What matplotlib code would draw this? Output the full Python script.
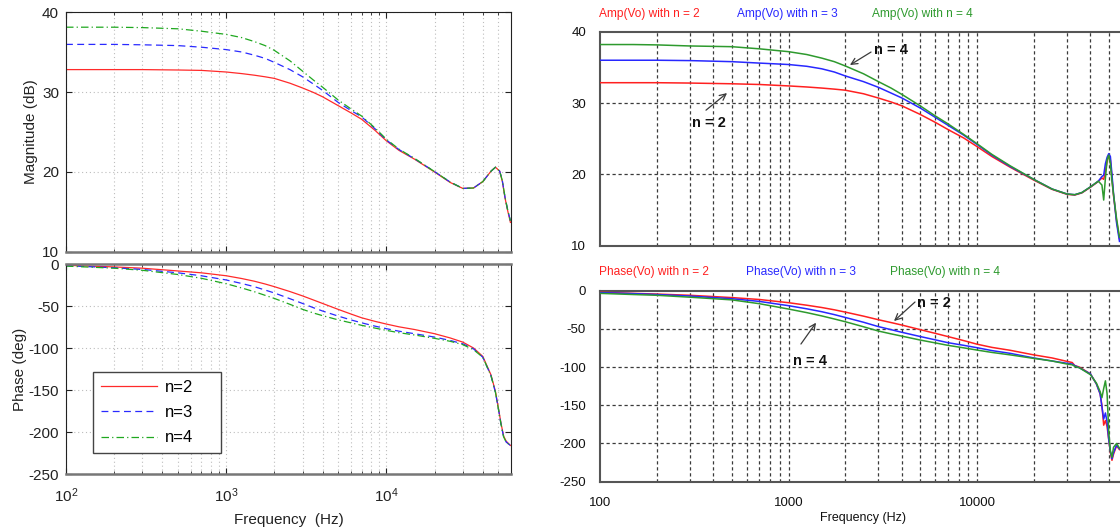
import matplotlib
matplotlib.use("Agg")
import matplotlib.pyplot as plt
from matplotlib.ticker import FixedLocator, FixedFormatter, NullFormatter

W, H = 1120, 532

# ---------------- left panel (MATLAB bode) ----------------
F_MAG_L = [100, 200, 300, 500, 700, 1000, 1250, 1500, 1750, 2000, 2500, 3000, 3500, 4000, 5000,
           6000, 7000, 8500, 10000, 12000, 15000, 20000, 25000, 30000, 35000, 40000, 45000,
           48000, 51000, 53000, 55000, 57000, 59500]
MAG_L_N2 = [32.8, 32.8, 32.8, 32.75, 32.7, 32.5, 32.3, 32.1, 31.9, 31.7, 31.1, 30.5, 29.95, 29.4, 28.3,
            27.4, 26.6, 25.2, 23.9, 22.7, 21.6, 20.0, 18.7, 17.95, 18.0, 18.8, 20.1,
            20.6, 20.1, 18.8, 16.8, 15.3, 13.7]
MAG_L_N3 = [35.95, 35.95, 35.9, 35.8, 35.6, 35.3, 35.0, 34.6, 34.2, 33.7, 32.8, 31.9, 31.0, 30.2, 28.7,
            27.7, 26.9, 25.4, 24.0, 22.8, 21.65, 20.05, 18.75, 17.95, 18.0, 18.8, 20.1,
            20.6, 20.1, 18.9, 16.9, 15.4, 13.9]
MAG_L_N4 = [38.1, 38.1, 38.05, 37.9, 37.6, 37.2, 36.8, 36.3, 35.8, 35.2, 33.9, 32.6, 31.5, 30.6, 29.0,
            27.9, 27.0, 25.5, 24.1, 22.85, 21.7, 20.05, 18.75, 17.95, 18.0, 18.8, 20.1,
            20.6, 20.1, 18.9, 16.9, 15.4, 13.9]

F_PH_L = [100, 200, 300, 500, 700, 1000, 1250, 1500, 1750, 2000, 2500, 3000, 3500, 4000, 5000,
          6000, 7000, 8500, 10000, 12000, 15000, 20000, 25000, 30000, 35000, 40000, 45000,
          48000, 50000, 52000, 54000, 56000, 59500]
PH_L_N2 = [-1.5, -3.5, -5, -8.3, -10.5, -14, -17.3, -20.5, -23.8, -27, -32.8, -38, -42.8, -47, -54,
           -59.5, -64, -68.3, -71.5, -74.8, -78, -83, -88, -93, -100, -110, -132,
           -152, -171, -190, -205, -211, -216]
PH_L_N3 = [-2, -4.5, -6.5, -10.5, -14, -19, -23.2, -27, -31, -34.5, -41.3, -47, -52, -56, -62,
           -66.5, -70, -74, -77, -80, -83, -87, -91, -95, -101, -111, -133,
           -153, -172, -191, -206, -212, -216]
PH_L_N4 = [-2.5, -5, -7.5, -12.5, -17, -23.5, -28.5, -33, -37.3, -41, -48, -54, -58.3, -61.5, -66.5,
           -70, -73, -76.3, -79, -81.8, -84.5, -88.5, -92, -96, -102, -111, -133,
           -153, -172, -191, -206, -212, -216]

LEGEND_L = ["n=2", "n=3", "n=4"]

# ---------------- right panel (PSpice) ----------------
F_MAG_R = [100, 150, 200, 300, 500, 700, 1000, 1250, 1500, 1750, 2000, 2500, 3000, 3500, 4000,
           5000, 6000, 7000, 8500, 10000, 12000, 15000, 20000, 25000, 30000, 33000, 36000,
           40000, 44000, 46000, 47000, 48000, 49000, 50000, 51000, 52000, 53000, 55000, 57000]
MAG_R_N2 = [32.85, 32.85, 32.85, 32.8, 32.7, 32.6, 32.4, 32.25, 32.1, 31.95, 31.8, 31.3, 30.7, 30.15, 29.6,
            28.4, 27.3, 26.3, 25.1, 23.9, 22.5, 21.0, 19.2, 17.9, 17.2, 17.1, 17.4,
            18.2, 19.0, 19.5, 19.3, 20.5, 21.8, 22.7, 22.0, 19.5, 17.0, 13.5, 11.0]
MAG_R_N3 = [36.0, 36.0, 36.0, 35.95, 35.8, 35.6, 35.4, 35.15, 34.8, 34.35, 33.8, 33.0, 32.2, 31.4, 30.7,
            29.3, 28.0, 26.9, 25.5, 24.2, 22.7, 21.1, 19.3, 17.95, 17.25, 17.15, 17.45,
            18.25, 19.05, 19.7, 19.9, 21.5, 22.4, 22.9, 22.5, 20.0, 17.3, 13.2, 10.6]
MAG_R_N4 = [38.2, 38.2, 38.15, 38.0, 37.9, 37.6, 37.2, 36.8, 36.3, 35.8, 35.2, 34.1, 33.0, 32.1, 31.2,
            29.6, 28.2, 27.1, 25.6, 24.3, 22.8, 21.2, 19.3, 17.95, 17.25, 17.15, 17.45,
            18.25, 19.05, 18.5, 16.4, 19.5, 22.0, 22.7, 21.5, 19.0, 17.2, 13.8, 11.2]

F_PH_R = [100, 150, 200, 300, 500, 700, 1000, 1250, 1500, 1750, 2000, 2500, 3000, 3500, 4000,
          5000, 6000, 7000, 8500, 10000, 12000, 15000, 20000, 25000, 30000, 32000, 33000,
          35000, 40000, 43000, 45000, 46000, 47000, 48000, 49000, 50000, 51000, 52000, 53000,
          55000, 57000]
PH_R_N2 = [-2, -3.5, -4.4, -6, -9, -11.5, -15.7, -19, -22, -25, -28, -33.3, -38, -41.7, -45,
           -51, -55.8, -60, -65.3, -70, -74.2, -78, -84, -88, -92.5, -94, -98,
           -100, -109, -122, -135, -150, -176, -170, -178, -195, -212, -222, -214,
           -203, -208]
PH_R_N3 = [-2.5, -3.8, -5, -7, -10.5, -14, -19.6, -23.7, -27.5, -31.3, -35, -41.3, -47, -51, -54.5,
           -60, -64.3, -68, -71.5, -74.6, -78.4, -82, -88, -92, -95, -96, -98,
           -101, -109, -122, -135, -152, -168, -160, -172, -195, -210, -220, -212,
           -202, -207]
PH_R_N4 = [-3.5, -5, -6, -8.5, -12, -17, -24, -28.7, -33, -37, -40.6, -47.2, -52.8, -56.5, -59.5,
           -64.6, -68.3, -71.5, -74.8, -77.7, -80.8, -84, -88.6, -92, -96, -97, -99,
           -101, -110, -121, -132, -140, -128, -118, -135, -185, -210, -218, -205,
           -200, -206]

AMP_LABELS = ["Amp(Vo) with n = 2", "Amp(Vo) with n = 3", "Amp(Vo) with n = 4"]
PHASE_LABELS = ["Phase(Vo) with n = 2", "Phase(Vo) with n = 3", "Phase(Vo) with n = 4"]

ML_COLORS = ["#ff2a2a", "#2a2aff", "#1fa81f"]
PS_COLORS = ["#ff2020", "#2828ff", "#2e9a2e"]
SANS = ["Liberation Sans", "DejaVu Sans"]

plt.rcParams.update({
    "font.family": SANS,
    "axes.unicode_minus": False,
    "mathtext.fontset": "custom",
    "mathtext.rm": "Liberation Sans",
    "mathtext.it": "Liberation Sans:italic",
    "mathtext.bf": "Liberation Sans:bold",
})


def px_axes(fig, x0, y0, x1, y1):
    return fig.add_axes([x0 / W, 1 - y1 / H, (x1 - x0) / W, (y1 - y0) / H])


def minor_decades(lo, hi):
    out = []
    dec = lo
    while dec < hi:
        out += [k * dec for k in range(2, 10) if k * dec < hi]
        dec *= 10
    return out


def style_matlab(ax, yticks):
    ax.set_xscale("log")
    ax.set_xlim(100, 60000)
    ax.xaxis.set_major_locator(FixedLocator([100, 1000, 10000]))
    ax.xaxis.set_minor_locator(FixedLocator(minor_decades(100, 60000)))
    ax.xaxis.set_minor_formatter(NullFormatter())
    ax.set_yticks(yticks)
    ax.grid(True, which="both", axis="x", color="#bdbdbd", linestyle=(0, (1, 2.5)), linewidth=0.8)
    ax.grid(True, which="major", axis="y", color="#bdbdbd", linestyle=(0, (1, 2.5)), linewidth=0.8)
    ax.tick_params(which="both", direction="in", top=True, right=True, labelsize=11,
                   colors="#222222", pad=5)
    ax.tick_params(which="major", length=4)
    ax.tick_params(which="minor", length=2)
    for side in ["left", "top", "right"]:
        ax.spines[side].set_color("#222222")
        ax.spines[side].set_linewidth(0.8)
    ax.spines["bottom"].set_color("#777777")
    ax.spines["bottom"].set_linewidth(1.8)


def style_pspice(ax, ylim, yticks, grid_y):
    ax.set_xscale("log")
    ax.set_xlim(100, 100000)
    ax.set_ylim(*ylim)
    ax.xaxis.set_major_locator(FixedLocator([100, 1000, 10000]))
    ax.xaxis.set_major_formatter(FixedFormatter(["100", "1000", "10000"]))
    ax.xaxis.set_minor_locator(FixedLocator(minor_decades(100, 100000)))
    ax.xaxis.set_minor_formatter(NullFormatter())
    ax.set_yticks(yticks)
    ax.tick_params(which="both", length=0, labelsize=9.5, colors="#111111")
    ax.tick_params(axis="y", pad=10)
    ax.tick_params(axis="x", pad=11)
    dash = dict(color="#3a3a3a", linewidth=0.9, linestyle=(0, (2.6, 2.2)), zorder=1)
    for f in [1000, 10000] + minor_decades(100, 100000):
        ax.axvline(f, **dash)
    for v in grid_y:
        ax.axhline(v, **dash)
    for side in ax.spines:
        ax.spines[side].set_color("#555555")
        ax.spines[side].set_linewidth(1.5)


def arrow(ax, start, tip):
    ax.annotate("", xy=tip, xytext=start,
                arrowprops=dict(arrowstyle="->,head_length=0.45,head_width=0.22",
                                color="#3a3a3a", lw=0.9, shrinkA=0, shrinkB=0))


def note(ax, x, y, s, ha="left"):
    ax.text(x, y, s, ha=ha, va="center", fontsize=10.5, fontweight="bold", color="#111111")


fig = plt.figure(figsize=(W / 100, H / 100), dpi=100)
ML_STYLES = ["-", (0, (5.5, 3.5)), (0, (6, 2.5, 1, 2.5))]

# ---- MATLAB magnitude ----
ax1 = px_axes(fig, 66, 12, 511, 252)
for vals, col, ls in zip([MAG_L_N2, MAG_L_N3, MAG_L_N4], ML_COLORS, ML_STYLES):
    ax1.plot(F_MAG_L, vals, color=col, linestyle=ls, linewidth=0.9)
ax1.set_ylim(10, 40)
style_matlab(ax1, [10, 20, 30, 40])
ax1.xaxis.set_major_formatter(NullFormatter())
ax1.set_ylabel("Magnitude (dB)", fontsize=11, color="#222222")
ax1.yaxis.set_label_coords(-0.062, 0.5)

# ---- MATLAB phase ----
ax2 = px_axes(fig, 66, 264, 511, 474)
for vals, col, ls, lab in zip([PH_L_N2, PH_L_N3, PH_L_N4], ML_COLORS, ML_STYLES, LEGEND_L):
    ax2.plot(F_PH_L, vals, color=col, linestyle=ls, linewidth=0.9, label=lab)
ax2.set_ylim(-250, 0)
style_matlab(ax2, [-250, -200, -150, -100, -50, 0])
ax2.spines["top"].set_color("#777777")
ax2.spines["top"].set_linewidth(1.8)
ax2.xaxis.set_major_formatter(FixedFormatter([r"$10^{2}$", r"$10^{3}$", r"$10^{4}$"]))
ax2.tick_params(axis="x", pad=9)
ax2.set_ylabel("Phase (deg)", fontsize=11, color="#222222")
ax2.yaxis.set_label_coords(-0.087, 0.5)
ax2.set_xlabel("Frequency  (Hz)", fontsize=11, color="#222222")
ax2.xaxis.set_label_coords(0.5, -0.185)
leg = ax2.legend(loc="lower left", bbox_to_anchor=(0.061, 0.10, 0.288, 0.39), mode="expand",
                 borderaxespad=0, fontsize=12, handlelength=3.4, handletextpad=0.45,
                 labelspacing=0.62, fancybox=False, framealpha=1, edgecolor="#444444",
                 borderpad=0.45)
leg.get_frame().set_linewidth(1.0)

# ---- PSpice magnitude ----
ax3 = px_axes(fig, 600, 31.7, 1165.5, 245.7)
style_pspice(ax3, (10, 40), [10, 20, 30, 40], [20, 30])
for vals, col in zip([MAG_R_N2, MAG_R_N3, MAG_R_N4], PS_COLORS):
    ax3.plot(F_MAG_R, vals, color=col, linewidth=1.1, zorder=3)
ax3.xaxis.set_major_formatter(NullFormatter())
arrow(ax3, (2741, 37.15), (2118, 35.33))
note(ax3, 2842, 37.43, "n = 4")
arrow(ax3, (365, 29.0), (472, 31.4))
note(ax3, 378.5, 27.2, "n = 2", ha="center")

# ---- PSpice phase ----
ax4 = px_axes(fig, 600, 290.7, 1165.5, 481.7)
style_pspice(ax4, (-250, 0), [-250, -200, -150, -100, -50, 0], [-50, -100, -150, -200])
for vals, col in zip([PH_R_N2, PH_R_N3, PH_R_N4], PS_COLORS):
    ax4.plot(F_PH_R, vals, color=col, linewidth=1.1, zorder=3)
arrow(ax4, (4690, -14.8), (3628, -39.7))
note(ax4, 4805, -15.7, "n = 2")
arrow(ax4, (1164, -69.8), (1400, -41.9))
note(ax4, 1057, -92.0, "n = 4")

# trace labels above the PSpice plots
for lab, col, x in zip(AMP_LABELS, PS_COLORS, [599, 737, 872]):
    fig.text(x / W, 1 - 14 / H, lab, color=col, fontsize=8.6, ha="left", va="center")
for lab, col, x in zip(PHASE_LABELS, PS_COLORS, [599, 746, 890]):
    fig.text(x / W, 1 - 272 / H, lab, color=col, fontsize=8.6, ha="left", va="center")
fig.text(863 / W, 1 - 518 / H, "Frequency (Hz)", fontsize=9, ha="center", va="center",
         color="#111111")

fig.savefig("out.png", dpi=100)
